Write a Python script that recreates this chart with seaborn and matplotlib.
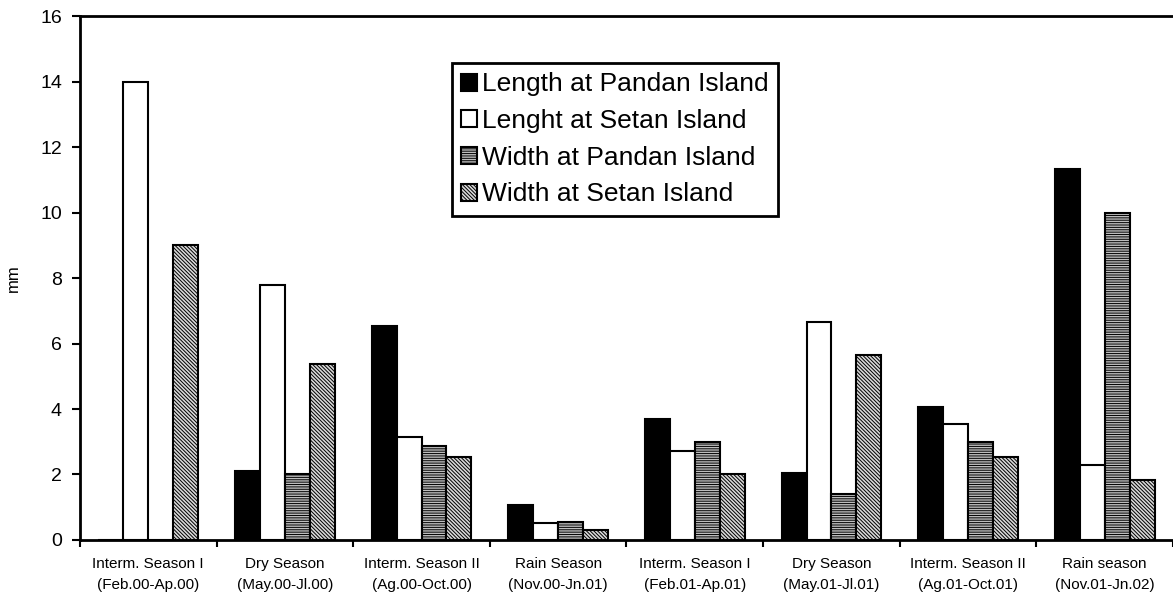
import matplotlib
matplotlib.use("Agg")
import matplotlib.pyplot as plt
import seaborn as sns
import pandas as pd
import numpy as np

seasons = ["Interm. Season I\n(Feb.00-Ap.00)", "Dry Season\n(May.00-Jl.00)",
           "Interm. Season II\n(Ag.00-Oct.00)", "Rain Season\n(Nov.00-Jn.01)",
           "Interm. Season I\n(Feb.01-Ap.01)", "Dry Season\n(May.01-Jl.01)",
           "Interm. Season II\n(Ag.01-Oct.01)", "Rain season\n(Nov.01-Jn.02)"]
series = ["Length at Pandan Island", "Lenght at Setan Island",
          "Width at Pandan Island", "Width at Setan Island"]
length_pandan = [0, 2.1, 6.55, 1.06, 3.68, 2.05, 4.07, 11.32]
length_setan = [14.0, 7.8, 3.13, 0.51, 2.72, 6.65, 3.55, 2.3]
width_pandan = [0, 2.0, 2.87, 0.54, 3.0, 1.4, 3.0, 10.0]
width_setan = [9.0, 5.38, 2.54, 0.3, 2.0, 5.65, 2.54, 1.84]

df = pd.DataFrame({
    "season": seasons * 4,
    "series": np.repeat(series, len(seasons)),
    "value": length_pandan + length_setan + width_pandan + width_setan,
})

plt.rcParams["font.family"] = ["Liberation Sans", "DejaVu Sans"]
plt.rcParams["hatch.linewidth"] = 0.7

fig = plt.figure(figsize=(11.73, 5.96), dpi=100)
ax = fig.add_axes([0.0682, 0.094, 0.9318, 0.879])

sns.barplot(data=df, x="season", y="value", hue="series", hue_order=series,
            palette=["black", "white", "#bdbdbd", "#d9d9d9"], saturation=1,
            edgecolor="black", linewidth=1.5, width=0.73, ax=ax)

hatches = [None, None, "-------", "\\\\\\\\\\\\\\\\\\"]
for cont, h in zip(ax.containers, hatches):
    for p in cont:
        if h:
            p.set_hatch(h)

ax.set_ylim(0, 16)
ax.set_xlim(-0.5, 7.5)
ax.set_yticks(range(0, 17, 2))
ax.set_xlabel("")
ax.set_ylabel("mm", fontsize=12, labelpad=14)
ax.tick_params(axis="y", labelsize=14, length=6, width=1.5, direction="out", pad=7)
ax.tick_params(axis="x", which="major", labelsize=11, length=0, pad=12)
for t in ax.get_xticklabels():
    t.set_linespacing(1.65)
ax.set_xticks(np.arange(-0.5, 8, 1), minor=True)
ax.tick_params(axis="x", which="minor", length=5, width=1.5, direction="out")
for s in ["left", "bottom", "top"]:
    ax.spines[s].set_linewidth(2)
ax.spines["right"].set_visible(False)

leg = ax.legend(loc="upper left", bbox_to_anchor=(0.340, 0.910), fontsize=19,
                frameon=True, fancybox=False, framealpha=1,
                handlelength=0.6, handleheight=0.6,
                handletextpad=0.2, labelspacing=0.48, borderpad=0.35,
                borderaxespad=0)
leg.get_frame().set_edgecolor("black")
leg.get_frame().set_linewidth(2)
for hp, h in zip(leg.legend_handles, hatches):
    hp.set_edgecolor("black")
    if h:
        hp.set_hatch(h)

fig.savefig("out.png", dpi=100)
